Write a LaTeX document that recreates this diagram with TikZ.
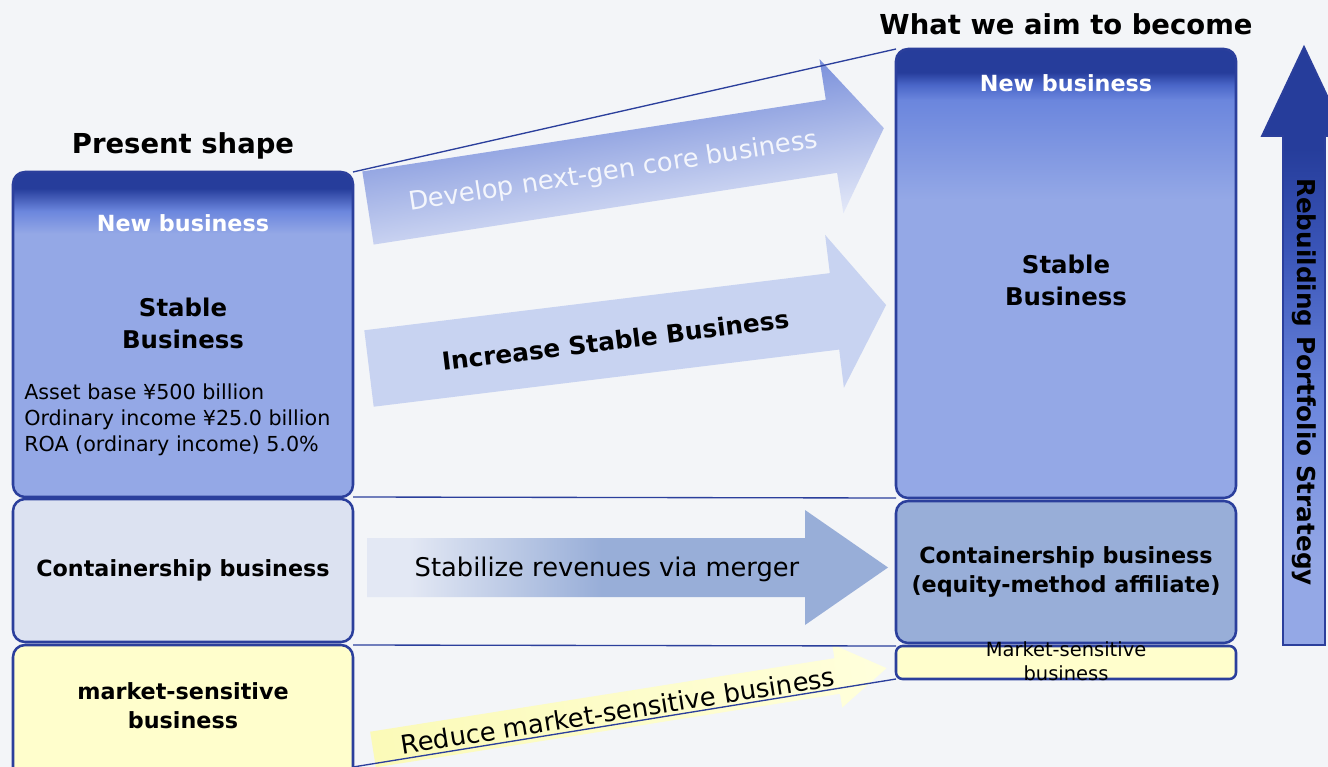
\documentclass[tikz,border=0pt]{standalone}
\usepackage{fontspec}
\setmainfont{DejaVu Sans}
\definecolor{dkblue}{HTML}{263D9B}
\definecolor{lnblue}{HTML}{2B3F9C}
\definecolor{stblue}{HTML}{94A8E6}
\definecolor{midblue}{HTML}{6B86DD}
\definecolor{stripe}{HTML}{4A66C8}
\definecolor{rbmid}{HTML}{3A55B8}
\definecolor{contL}{HTML}{DCE2F1}
\definecolor{contLa}{HTML}{E3E8F4}
\definecolor{contR}{HTML}{98AED8}
\definecolor{ylw}{HTML}{FFFECC}
\definecolor{ylwA}{HTML}{FBFAB8}
\definecolor{ylwB}{HTML}{FFFFDC}
\definecolor{bg}{HTML}{F3F5F8}
\definecolor{arrtwo}{HTML}{C8D3F1}
\definecolor{aonetop}{HTML}{7A90DB}
\definecolor{aonebot}{HTML}{E4E9F8}
\definecolor{aonetxt}{HTML}{F4F6FC}
\pgfdeclareverticalshading{stableL}{100bp}{color(0bp)=(stblue); color(65.5bp)=(stblue); color(69bp)=(midblue); color(72.5bp)=(dkblue); color(100bp)=(dkblue)}
\pgfdeclareverticalshading{stableR}{100bp}{color(0bp)=(stblue); color(58.2bp)=(stblue); color(69.3bp)=(midblue); color(71bp)=(stripe); color(72.4bp)=(dkblue); color(100bp)=(dkblue)}
\pgfdeclareverticalshading{rebuild}{100bp}{color(0bp)=(stblue); color(32bp)=(stblue); color(45.5bp)=(midblue); color(58bp)=(rbmid); color(66.5bp)=(dkblue); color(100bp)=(dkblue)}
\pgfdeclarehorizontalshading{merge}{100bp}{color(0bp)=(contLa); color(29bp)=(contLa); color(47.5bp)=(contR); color(100bp)=(contR)}
\begin{document}
\begin{tikzpicture}[x=0.75pt, y=-0.75pt,
  box/.style={draw=lnblue, line width=1.9pt, rounded corners=9pt, minimum width=255pt, outer sep=0pt, inner sep=0pt},
  conn/.style={draw=lnblue, line width=1pt},
  title/.style={font=\fontsize{20.6}{24}\selectfont\bfseries, text=black},
  lbl/.style={font=\fontsize{16.7}{21.75}\selectfont\bfseries, align=center},
  wtxt/.style={font=\fontsize{16.7}{20}\selectfont\bfseries, text=white},
  sbtxt/.style={font=\fontsize{18.3}{24}\selectfont\bfseries, align=center},
  stattxt/.style={font=\fontsize{15.5}{19.5}\selectfont, align=left, inner sep=0pt},
  smalltxt/.style={font=\fontsize{14.6}{18}\selectfont, align=center},
  arrtxt/.style={font=\fontsize{19.3}{23}\selectfont},
  arrbold/.style={font=\fontsize{18.6}{22}\selectfont\bfseries},
  rbtxt/.style={font=\fontsize{18.5}{22}\selectfont\bfseries}
]
\useasboundingbox (0,0) rectangle (1328,767);
\clip (0,0) rectangle (1328,767);
\fill[bg] (0,0) rectangle (1328,767);

% titles
\node[title] (tPresent) at (183,146) {Present shape};
\node[title] (tAim) at (1066,24) {What we aim to become};

% block arrows
\begin{scope}[transform canvas={shift={(368,208)},rotate=8.8}]
  \shade[top color=aonetop, bottom color=aonebot] (0,-37) -- (469,-37) -- (469,-78) -- (522,0) -- (469,78) -- (469,37) -- (0,37) -- cycle;
  \node[arrtxt, text=aonetxt] (tDevelop) at (248,2) {Develop next-gen core business};
\end{scope}
\begin{scope}[transform canvas={shift={(369,368.5)},rotate=7}]
  \fill[arrtwo] (0,-38.5) -- (469,-38.5) -- (469,-77) -- (521,0) -- (469,77) -- (469,38.5) -- (0,38.5) -- cycle;
  \node[arrbold] (tIncrease) at (248,2) {Increase Stable Business};
\end{scope}
\shade[shading=merge] (367,538) -- (805,538) -- (805,510) -- (888,567.5) -- (805,625) -- (805,597) -- (367,597) -- cycle;
\node[arrtxt] (tStab) at (607,569) {Stabilize revenues via merger};
\begin{scope}[transform canvas={shift={(373,749.5)},rotate=9}]
  \shade[left color=ylwA, right color=ylwB] (0,-18) -- (470,-18) -- (470,-32) -- (520,0) -- (470,32) -- (470,18) -- (0,18) -- cycle;
  \node[arrtxt] (tReduce) at (248,0) {Reduce market-sensitive business};
\end{scope}

% left column
\node[box, shade, shading=stableL, minimum height=243.75pt] (L1) at (183,334.5) {};
\node[wtxt] (nbL) at (183,223) {New business};
\node[sbtxt] (sbL) at (183,323) {Stable\\Business};
\node[stattxt, anchor=west] (stats) at (24,420) {Asset base ¥500 billion\\Ordinary income ¥25.0 billion\\ROA (ordinary income) 5.0\%};
\node[box, fill=contL, minimum height=107.25pt, lbl] (L2) at (183,570.5) {Containership business};
\node[box, fill=ylw, minimum height=116.25pt] (L3) at (183,722.5) {};
\node[lbl] (msL) at (183,705.5) {market-sensitive\\business};

% right column
\node[box, shade, shading=stableR, minimum height=336.75pt] (R1) at (1066,273.5) {};
\node[wtxt] (nbR) at (1066,83) {New business};
\node[sbtxt] (sbR) at (1066,280.5) {Stable\\Business};
\node[box, fill=contR, minimum height=106.5pt, lbl] (R2) at (1066,572) {Containership business\\(equity-method affiliate)};
\node[box, rounded corners=5pt, fill=ylw, minimum height=24.75pt] (R3) at (1066,662.5) {};
\node[smalltxt] (msR) at (1066,661) {Market-sensitive\\business};

% connectors
\coordinate (lbot) at (353,767);
\draw[conn] (L1.north east) -- (R1.north west);
\draw[conn] (L1.south east) -- (R1.south west);
\draw[conn] (L3.north east) -- (R3.north west);
\draw[conn] (lbot) -- (R3.south west);

% rebuilding arrow
\shadedraw[shading=rebuild, draw=lnblue, line width=1.4pt] (1283,645) -- (1283,136) -- (1262,136) -- (1304,47) -- (1346,136) -- (1325,136) -- (1325,645) -- cycle;
\node[rbtxt, rotate=-90] (tRebuild) at (1304,382) {Rebuilding Portfolio Strategy};
\end{tikzpicture}
\end{document}
